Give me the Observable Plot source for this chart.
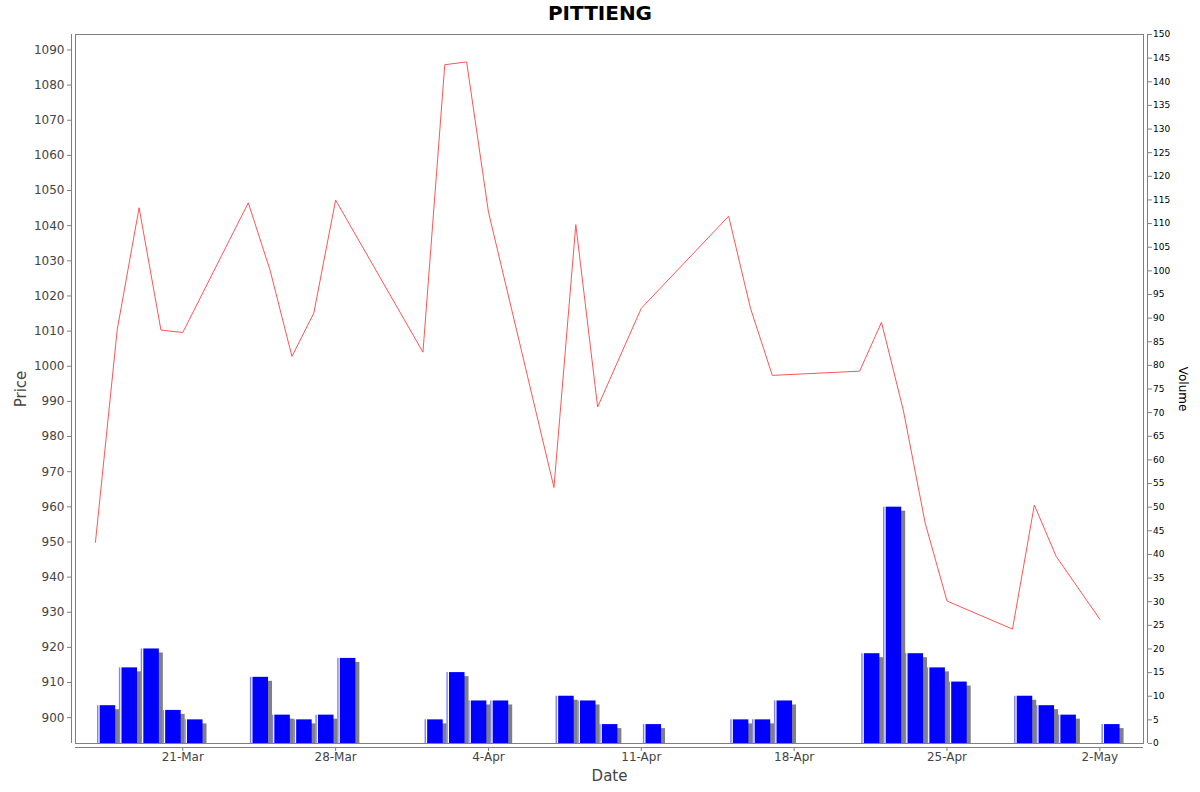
<!DOCTYPE html>
<html><head><meta charset="utf-8">
<script src="https://cdn.jsdelivr.net/npm/d3@7"></script>
<script src="https://cdn.jsdelivr.net/npm/@observablehq/plot@0.6"></script>
<style>
body{margin:0;background:#fff;font-family:"DejaVu Sans",sans-serif;}
#title{height:26px;line-height:26px;text-align:center;font-weight:bold;font-size:20px;width:1200px;color:#000;}
#wrap{position:relative;width:1200px;height:766px;}
#wrap svg{position:absolute;left:0;top:0;}
</style></head><body>
<div id="title">PITTIENG</div>
<div id="wrap"></div>
<script>
const dates = ["2025-03-17","2025-03-18","2025-03-19","2025-03-20","2025-03-21",
  "2025-03-24","2025-03-25","2025-03-26","2025-03-27","2025-03-28",
  "2025-04-01","2025-04-02","2025-04-03","2025-04-04",
  "2025-04-07","2025-04-08","2025-04-09","2025-04-11",
  "2025-04-15","2025-04-16","2025-04-17",
  "2025-04-21","2025-04-22","2025-04-23","2025-04-24","2025-04-25",
  "2025-04-28","2025-04-29","2025-04-30","2025-05-02"];
const prices = [949.9,1010.5,1045.1,1010.3,1009.6,
  1046.5,1027.3,1002.8,1015.1,1047.3,
  1004.0,1085.8,1086.6,1043.9,
  965.5,1040.3,988.4,1016.5,
  1042.7,1016.5,997.4,
  998.6,1012.5,987.5,955.4,933.2,
  925.2,960.5,945.9,928.0];
const volumes = [8,16,20,7,5,
  14,6,5,6,18,
  5,15,9,9,
  10,9,4,4,
  5,5,9,
  19,50,19,16,13,
  10,8,6,4];
const dateTicks = ["2025-03-21","2025-03-28","2025-04-04","2025-04-11","2025-04-18","2025-04-25","2025-05-02"];
const priceTicks = [900,910,920,930,940,950,960,970,980,990,1000,1010,1020,1030,1040,1050,1060,1070,1080,1090];
const volumeTicks = [0,5,10,15,20,25,30,35,40,45,50,55,60,65,70,75,80,85,90,95,100,105,110,115,120,125,130,135,140,145,150];
const xDomain = ["2025-03-16T02:05:00Z","2025-05-04T00:00:00Z"];
const priceDomain = [892.65, 1094.4];
const volumeDomain = [0, 150];

const parse = d3.utcParse("%Y-%m-%d");
const xd = xDomain.map(s => new Date(s));
const priceData = dates.map((d, i) => ({date: parse(d), price: prices[i]}));
const barData = dates.map((d, i) => ({date: parse(d), end: d3.utcDay.offset(parse(d), 1), volume: volumes[i]}));
const ticksX = dateTicks.map(parse);

const common = {
  width: 1200, height: 766,
  marginTop: 8, marginBottom: 49, marginLeft: 75, marginRight: 57,
};
const gray = "#808080";

const volChart = Plot.plot({
  ...common,
  style: {fontFamily: "DejaVu Sans", background: "white"},
  x: {type: "utc", domain: xd, axis: null},
  y: {domain: volumeDomain, axis: null},
  marks: [
    Plot.rectY(barData, {x1: "date", x2: "end", y: "volume", insetLeft: 4.7, insetRight: 1.6, dx: 4, dy: 4, fill: gray, clip: true}),
    Plot.ruleX(barData, {x: "date", y1: 0, y2: "volume", dx: 2.3, stroke: "#7f7fff", strokeWidth: 1.4}),
    Plot.rectY(barData, {x1: "date", x2: "end", y: "volume", insetLeft: 4.7, insetRight: 1.6, fill: "#0000ff"}),
    Plot.axisY({anchor: "right", ticks: volumeTicks, tickFormat: d => String(d), tickSize: 4, tickPadding: 1.5, dx: 4, fontSize: 9, fill: "#000", stroke: gray, label: null}),
    Plot.ruleX([xd[1]], {dx: 4, stroke: gray}),
    Plot.text(["Volume"], {frameAnchor: "right", textAnchor: "middle", rotate: 90, dx: 39, fontSize: 12, fill: "#000"})
  ]
});

const priceChart = Plot.plot({
  ...common,
  style: {fontFamily: "DejaVu Sans", background: "transparent"},
  x: {type: "utc", domain: xd},
  y: {domain: priceDomain},
  marks: [
    Plot.frame({stroke: gray}),
    Plot.ruleX([xd[0]], {dx: -4, stroke: gray}),
    Plot.ruleY([priceDomain[0]], {dy: 4, stroke: gray}),
    Plot.axisY({anchor: "left", ticks: priceTicks, tickFormat: d => String(d), tickSize: 4, tickPadding: 3, dx: -4, fontSize: 12, fill: "#444", stroke: gray, label: null}),
    Plot.axisX({anchor: "bottom", ticks: ticksX, tickFormat: d3.utcFormat("%-d-%b"), tickSize: 4, tickPadding: 1, dy: 4, fontSize: 12, fill: "#444", stroke: gray, label: null}),
    Plot.text(["Price"], {frameAnchor: "left", textAnchor: "middle", rotate: -90, dx: -54.5, fontSize: 15, fill: "#444"}),
    Plot.text(["Date"], {frameAnchor: "bottom", textAnchor: "middle", lineAnchor: "middle", dy: 33, fontSize: 15, fill: "#444"}),
    Plot.line(priceData, {x: "date", y: "price", stroke: "#ff5555", strokeWidth: 1})
  ]
});

const wrap = document.getElementById("wrap");
wrap.appendChild(volChart);
wrap.appendChild(priceChart);
</script>
</body></html>
